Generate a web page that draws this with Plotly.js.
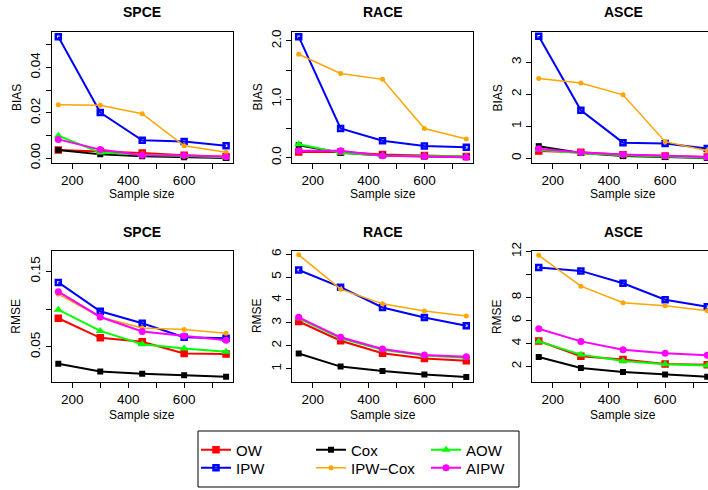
<!DOCTYPE html>
<html><head><meta charset="utf-8">
<script src="https://cdn.plot.ly/plotly-3.0.1.min.js"></script>
<style>html,body{margin:0;padding:0;overflow:hidden;background:#fff}#chart{width:716px;height:490px}</style>
</head><body><div id="chart"></div>
<script>
// ---------- data ----------
const sampleSize = [150, 300, 450, 600, 750];
const methods = ['OW', 'IPW', 'Cox', 'IPW−Cox', 'AOW', 'AIPW'];
const panelTitles = ['SPCE', 'RACE', 'ASCE'];

// BIAS (rows follow `methods` order)
const biasSPCE = [
  [0.0036, 0.0030, 0.0023, 0.0013, 0.0007],
  [0.0535, 0.0201, 0.0079, 0.0074, 0.0055],
  [0.0036, 0.0017, 0.0009, 0.0004, 0.0001],
  [0.0236, 0.0233, 0.0196, 0.0055, 0.0026],
  [0.0099, 0.0025, 0.0015, 0.0010, 0.0004],
  [0.0083, 0.0038, 0.0013, 0.0012, 0.0006]
];
const biasRACE = [
  [0.10, 0.10, 0.055, 0.04, 0.02],
  [2.07, 0.50, 0.29, 0.20, 0.18],
  [0.215, 0.085, 0.04, 0.02, 0.01],
  [1.77, 1.44, 1.34, 0.50, 0.32],
  [0.23, 0.085, 0.04, 0.03, 0.02],
  [0.12, 0.12, 0.035, 0.025, 0.01]
];
const biasASCE = [
  [0.23, 0.19, 0.11, 0.07, 0.04],
  [3.81, 1.50, 0.49, 0.46, 0.31],
  [0.38, 0.17, 0.07, 0.04, 0.01],
  [2.49, 2.35, 1.98, 0.52, 0.24],
  [0.27, 0.16, 0.10, 0.05, 0.02],
  [0.30, 0.18, 0.12, 0.07, 0.04]
];
// RMSE
const rmseSPCE = [
  [0.0879, 0.0619, 0.0566, 0.0412, 0.0403],
  [0.1355, 0.0971, 0.0813, 0.0628, 0.0615],
  [0.0275, 0.0174, 0.0143, 0.0121, 0.0103],
  [0.1200, 0.0896, 0.0751, 0.0729, 0.0680],
  [0.0993, 0.0711, 0.0535, 0.0478, 0.0434],
  [0.1231, 0.0896, 0.0703, 0.0645, 0.0588]
];
const rmseRACE = [
  [3.06, 2.22, 1.67, 1.44, 1.34],
  [5.31, 4.56, 3.67, 3.23, 2.87],
  [1.66, 1.09, 0.90, 0.74, 0.64],
  [5.97, 4.47, 3.83, 3.52, 3.30],
  [3.20, 2.33, 1.82, 1.57, 1.48],
  [3.24, 2.37, 1.86, 1.60, 1.52]
];
const rmseASCE = [
  [4.22, 2.89, 2.61, 2.23, 2.17],
  [10.60, 10.31, 9.24, 7.80, 7.19],
  [2.84, 1.88, 1.54, 1.31, 1.11],
  [11.66, 8.98, 7.54, 7.28, 6.85],
  [4.19, 3.04, 2.49, 2.20, 2.09],
  [5.29, 4.19, 3.47, 3.15, 2.98]
];

// tick labels
const xTickVals = [200, 300, 400, 500, 600, 700];
const xTickText = ['200', '', '400', '', '600', ''];
const yTicks = [
  {vals: [0, 0.01, 0.02, 0.03, 0.04, 0.05], text: ['0.00', '', '0.02', '', '0.04', '']},
  {vals: [0, 0.5, 1, 1.5, 2], text: ['0.0', '', '1.0', '', '2.0']},
  {vals: [0, 1, 2, 3], text: ['0', '1', '2', '3']},
  {vals: [0.05, 0.10, 0.15], text: ['0.05', '', '0.15']},
  {vals: [1, 2, 3, 4, 5, 6], text: ['1', '2', '3', '4', '5', '6']},
  {vals: [2, 4, 6, 8, 10, 12], text: ['2', '4', '6', '8', '', '12']}
];

// ---------- style ----------
const W = 716, H = 490;
const colors = ['#FF0000', '#0000FF', '#000000', '#FFA500', '#00FF00', '#FF00FF'];
const symbols = ['square-x-open', 'square-open', 'square', 'circle', 'triangle-up', 'circle'];
const sizes = [5, 5, 6, 5, 8, 7];
const lineW = [2, 2, 2, 1.5, 2, 2];
const legendOf = ['legend', 'legend2', 'legend', 'legend2', 'legend', 'legend2'];
const font = 'Liberation Sans, Arial, Helvetica, sans-serif';

const boxX = [[51.6, 232.8], [292, 473], [532, 714]];
const boxY = [[32, 163], [250.5, 381.7]];
const yRanges = [
  [-0.0021, 0.0556], [-0.09, 2.15], [-0.145, 3.94],
  [0.0037, 0.1778], [0.43, 6.16], [0.69, 12.08]
];
const panelData = [biasSPCE, biasRACE, biasASCE, rmseSPCE, rmseRACE, rmseASCE];

const traces = [];
const layout = {
  width: W, height: H,
  margin: {l: 0, r: 0, t: 0, b: 0},
  paper_bgcolor: '#fff', plot_bgcolor: '#fff',
  font: {family: font, color: '#000'},
  showlegend: true,
  annotations: [], shapes: []
};

for (let p = 0; p < 6; p++) {
  const row = Math.floor(p / 3), col = p % 3;
  const ax = p === 0 ? '' : String(p + 1);
  const bx = boxX[col], by = boxY[row];
  layout['xaxis' + ax] = {
    domain: [bx[0] / W, bx[1] / W], anchor: 'y' + ax,
    range: [126, 774], tickvals: xTickVals, ticktext: xTickText,
    ticks: 'outside', ticklen: 5, tickwidth: 1, tickcolor: '#000',
    showline: true, linecolor: '#000', linewidth: 1, mirror: true,
    showgrid: false, zeroline: false, automargin: false,
    tickfont: {size: 13.5, family: font, color: '#000'}
  };
  layout['yaxis' + ax] = {
    domain: [(H - by[1]) / H, (H - by[0]) / H], anchor: 'x' + ax,
    range: yRanges[p], tickvals: yTicks[p].vals, ticktext: yTicks[p].text,
    tickangle: -90,
    ticks: 'outside', ticklen: 5, tickwidth: 1, tickcolor: '#000',
    showline: true, linecolor: '#000', linewidth: 1, mirror: true,
    showgrid: false, zeroline: false, automargin: false,
    tickfont: {size: 13.5, family: font, color: '#000'}
  };
  for (let m = 0; m < methods.length; m++) {
    traces.push({
      type: 'scatter', mode: 'lines+markers',
      x: sampleSize, y: panelData[p][m],
      xaxis: 'x' + ax, yaxis: 'y' + ax,
      name: methods[m], legend: legendOf[m], showlegend: p === 0,
      line: {color: colors[m], width: lineW[m]},
      marker: {symbol: symbols[m], size: sizes[m], color: colors[m],
               line: {color: colors[m], width: symbols[m].includes('open') ? 2.5 : 0}},
      cliponaxis: true
    });
  }
  const cx = (bx[0] + bx[1]) / 2 / W;
  layout.annotations.push({
    text: '<b>' + panelTitles[col] + '</b>', xref: 'paper', yref: 'paper',
    x: cx, y: (H - (row === 0 ? 12.3 : 231.7)) / H, xanchor: 'center', yanchor: 'middle',
    showarrow: false, font: {size: 14, family: font, color: '#000'}
  });
  layout.annotations.push({
    text: 'Sample size', xref: 'paper', yref: 'paper',
    x: cx, y: (H - (row === 0 ? 194 : 415)) / H, xanchor: 'center', yanchor: 'middle',
    showarrow: false, font: {size: 12, family: font, color: '#000'}
  });
  layout.annotations.push({
    text: row === 0 ? 'BIAS' : 'RMSE', xref: 'paper', yref: 'paper', textangle: -90,
    x: (bx[0] - 35) / W, y: (H - (by[0] + by[1]) / 2) / H, xanchor: 'center', yanchor: 'middle',
    showarrow: false, font: {size: 12, family: font, color: '#000'}
  });
}

// legend frame
layout.shapes.push({type: 'rect', xref: 'paper', yref: 'paper',
  x0: 198 / W, x1: 519 / W, y0: (H - 487) / H, y1: (H - 431) / H,
  line: {color: '#000', width: 1}, fillcolor: 'rgba(0,0,0,0)'});

const legendBase = {
  orientation: 'h', xanchor: 'left', yanchor: 'middle',
  bgcolor: 'rgba(0,0,0,0)', borderwidth: 0,
  font: {size: 15, family: font, color: '#000'},
  entrywidth: 70, entrywidthmode: 'pixels', itemclick: false, itemdoubleclick: false
};
layout.legend = Object.assign({}, legendBase, {x: 196 / W, y: (H - 450) / H});
layout.legend2 = Object.assign({}, legendBase, {x: 196 / W, y: (H - 468) / H});

Plotly.newPlot('chart', traces, layout, {displayModeBar: false, staticPlot: true});
</script></body></html>
